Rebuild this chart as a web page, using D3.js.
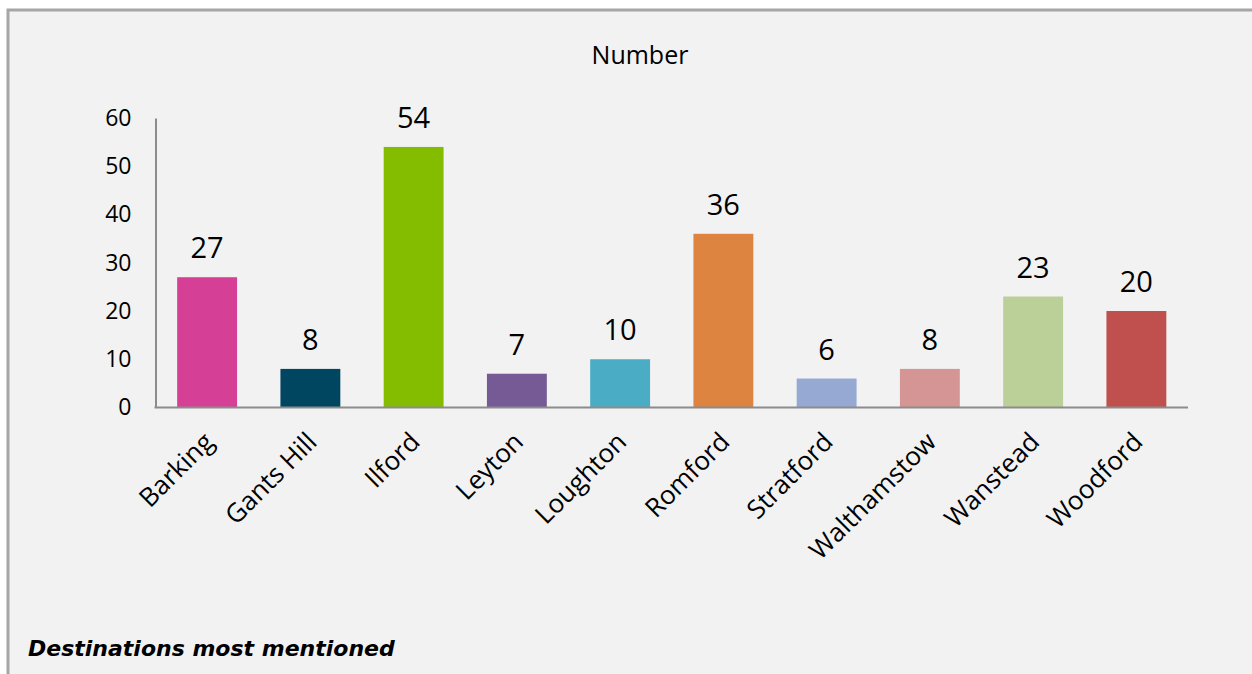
<!DOCTYPE html>
<html>
<head>
<meta charset="utf-8">
<script src="https://cdn.jsdelivr.net/npm/d3@7"></script>
<style>
  html, body { margin: 0; padding: 0; background: #ffffff; }
  svg { display: block; }
</style>
</head>
<body>
<svg id="chart" width="1252" height="674"></svg>
<script>
const categories = ["Barking", "Gants Hill", "Ilford", "Leyton", "Loughton", "Romford", "Stratford", "Walthamstow", "Wanstead", "Woodford"];
const values = [27, 8, 54, 7, 10, 36, 6, 8, 23, 20];
const barColors = ["#D63F96", "#004660", "#84BD00", "#755A96", "#4BACC6", "#DD8441", "#95A9D3", "#D69595", "#BBCF98", "#C0504D"];
const yTicks = [0, 10, 20, 30, 40, 50, 60];
const chartTitle = "Number";
const caption = "Destinations most mentioned";

(function () {
const svg = d3.select("#chart");
const W = 1252, H = 674;

svg.append("rect").attr("x", 0).attr("y", 0).attr("width", W).attr("height", H).attr("fill", "#ffffff");
svg.append("rect").attr("x", 8).attr("y", 10).attr("width", W + 10).attr("height", H + 10)
  .attr("fill", "#F2F2F2").attr("stroke", "#A6A6A6").attr("stroke-width", 3);

const pLeft = 155.5, pRight = 1188, pTop = 118, pBottom = 407.5;

const x = d3.scaleBand().domain(categories).range([pLeft, pRight]).paddingInner(0.42).paddingOuter(0.21);
const y = d3.scaleLinear().domain([0, 60]).range([pBottom, pTop]);

svg.append("g").selectAll("rect").data(categories).join("rect")
  .attr("x", d => x(d))
  .attr("y", (d, i) => y(values[i]))
  .attr("width", x.bandwidth())
  .attr("height", (d, i) => y(0) - y(values[i]))
  .attr("fill", (d, i) => barColors[i]);

const yAxis = svg.append("g").attr("transform", `translate(${pLeft},0)`)
  .call(d3.axisLeft(y).tickValues(yTicks).tickSize(0).tickPadding(24));
yAxis.select(".domain").attr("stroke", "#8C8C8C").attr("stroke-width", 2);
yAxis.selectAll("text").attr("font-family", "'Open Sans', sans-serif").attr("font-size", 23).attr("fill", "#000");

const xAxis = svg.append("g").attr("transform", `translate(0,${pBottom})`)
  .call(d3.axisBottom(x).tickSize(0).tickPadding(0));
xAxis.select(".domain").attr("stroke", "#8C8C8C").attr("stroke-width", 2).attr("d", `M${pLeft - 1},0H${pRight}`);
xAxis.selectAll("text")
  .attr("font-family", "'Open Sans', sans-serif").attr("font-size", 26).attr("fill", "#000")
  .attr("text-anchor", "end")
  .attr("y", 0)
  .attr("dy", null)
  .attr("transform", "translate(8,36) rotate(-45)");

svg.append("g").selectAll("text").data(categories).join("text")
  .attr("x", d => x(d) + x.bandwidth() / 2)
  .attr("y", (d, i) => y(values[i]) - 19)
  .attr("text-anchor", "middle")
  .attr("font-family", "'Open Sans', sans-serif").attr("font-size", 29).attr("fill", "#000")
  .text((d, i) => values[i]);

svg.append("text").attr("x", 640).attr("y", 64).attr("text-anchor", "middle")
  .attr("font-family", "'Open Sans', sans-serif").attr("font-size", 25).attr("fill", "#000")
  .text(chartTitle);

svg.append("text").attr("x", 28).attr("y", 656)
  .attr("font-family", "'DejaVu Sans', sans-serif").attr("font-size", 22)
  .attr("font-weight", "bold").attr("font-style", "italic").attr("fill", "#000")
  .text(caption);
})();
</script>
</body>
</html>
